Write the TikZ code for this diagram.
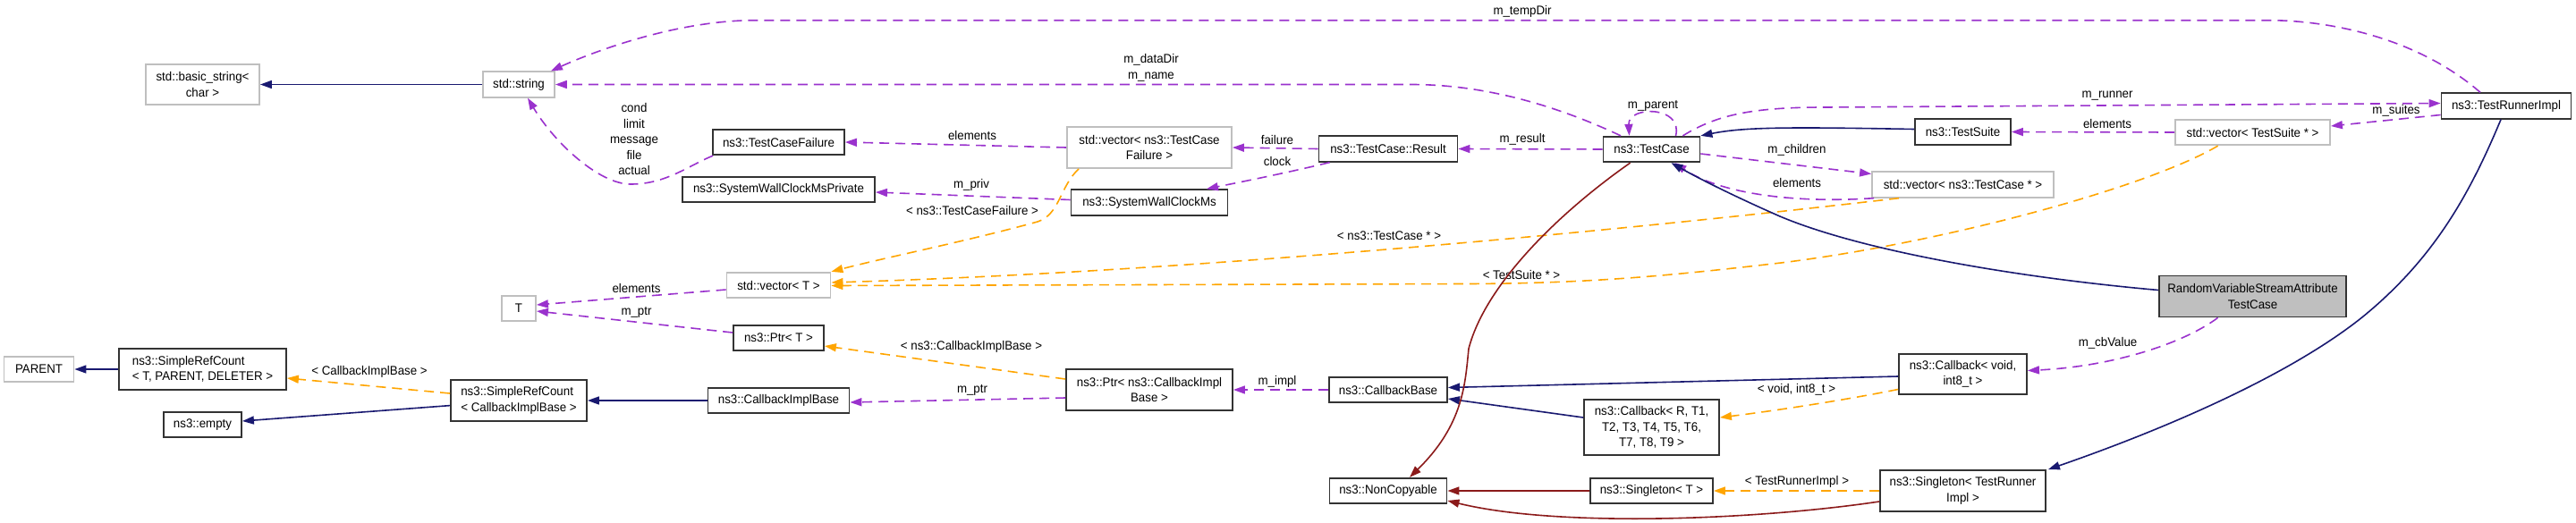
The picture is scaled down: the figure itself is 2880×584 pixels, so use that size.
\documentclass[tikz,border=0pt]{standalone}
\usepackage{fontspec}
\setmainfont{Liberation Sans}[FakeStretch=0.95]
\usetikzlibrary{arrows.meta,calc}
\definecolor{inhblue}{HTML}{191970}
\definecolor{usepurple}{HTML}{9A32CD}
\definecolor{tmplorange}{HTML}{FFA500}
\definecolor{privred}{HTML}{8B1A1A}
\definecolor{greyborder}{HTML}{BFBFBF}
\definecolor{hlfill}{HTML}{BFBFBF}
\tikzset{
  every node/.style={font=\fontsize{14pt}{17.5pt}\selectfont},
  cls/.style={draw=black!80, line width=1.8pt, rectangle, inner sep=0pt, align=center, fill=white},
  ext/.style={cls, draw=greyborder},
  hl/.style={cls, fill=hlfill},
  lbl/.style={inner sep=0pt, align=center},
  arrowend/.style={-{Triangle[length=13pt,width=9pt]}},
  inhedge/.style={draw=inhblue, line width=1.6pt, arrowend},
  privedge/.style={draw=privred, line width=1.6pt, arrowend},
  usedge/.style={draw=usepurple, line width=1.6pt, dash pattern=on 11pt off 7pt, arrowend},
  tmpledge/.style={draw=tmplorange, line width=1.6pt, dash pattern=on 11pt off 7pt, arrowend}
}
\begin{document}
\begin{tikzpicture}[x=1pt,y=-1pt]
\useasboundingbox (0,0) rectangle (2880,584);
% nodes
\node[ext, minimum width=127pt, minimum height=45pt] (bstr) at (226.5,94.5) {std::basic\_string<\\char >};
\node[ext, minimum width=80pt, minimum height=28.5pt] (str) at (580,94.5) {std::string};
\node[ext, minimum width=78pt, minimum height=28.5pt] (parent) at (43.5,413) {PARENT};
\node[cls, align=left, minimum width=187pt, minimum height=46pt] (srcT) at (226.5,413) {ns3::SimpleRefCount\\< T, PARENT, DELETER >};
\node[cls, minimum width=87pt, minimum height=28.5pt] (empty) at (226.5,475) {ns3::empty};
\node[cls, align=left, minimum width=152pt, minimum height=46pt] (srcC) at (580,448) {ns3::SimpleRefCount\\< CallbackImplBase >};
\node[ext, minimum width=38pt, minimum height=28.5pt] (T) at (580,345) {T};
\node[cls, minimum width=147pt, minimum height=28.5pt] (tcf) at (870.5,159) {ns3::TestCaseFailure};
\node[cls, minimum width=215pt, minimum height=28.5pt] (swcp) at (870.5,212) {ns3::SystemWallClockMsPrivate};
\node[ext, minimum width=184pt, minimum height=46pt] (vtcf) at (1285,165) {std::vector< ns3::TestCase\\Failure >};
\node[cls, minimum width=175pt, minimum height=28.5pt] (swc) at (1285,226.5) {ns3::SystemWallClockMs};
\node[ext, minimum width=116pt, minimum height=28.5pt] (vT) at (870.5,319) {std::vector< T >};
\node[cls, minimum width=101pt, minimum height=28.5pt] (ptrT) at (870.5,378) {ns3::Ptr< T >};
\node[cls, minimum width=158pt, minimum height=28.5pt] (cib) at (870.5,448) {ns3::CallbackImplBase};
\node[cls, minimum width=186pt, minimum height=46pt] (ptrC) at (1285,436) {ns3::Ptr< ns3::CallbackImpl\\Base >};
\node[cls, minimum width=155pt, minimum height=28.5pt] (res) at (1552,166.5) {ns3::TestCase::Result};
\node[cls, minimum width=108pt, minimum height=28.5pt] (tc) at (1846.5,167) {ns3::TestCase};
\node[ext, minimum width=203pt, minimum height=28.5pt] (vtc) at (2194.5,206.5) {std::vector< ns3::TestCase * >};
\node[cls, minimum width=107pt, minimum height=28.5pt] (ts) at (2194.5,147.5) {ns3::TestSuite};
\node[cls, minimum width=132pt, minimum height=28.5pt] (cbb) at (1552,436) {ns3::CallbackBase};
\node[cls, minimum width=151pt, minimum height=62.5pt] (cbR) at (1846.5,478) {ns3::Callback< R, T1,\\T2, T3, T4, T5, T6,\\T7, T8, T9 >};
\node[cls, minimum width=131pt, minimum height=28.5pt] (nc) at (1552,549) {ns3::NonCopyable};
\node[cls, minimum width=137pt, minimum height=28.5pt] (sgT) at (1846.5,549) {ns3::Singleton< T >};
\node[cls, minimum width=143pt, minimum height=45pt] (cbV) at (2194.5,418.5) {ns3::Callback< void,\\int8\_t >};
\node[cls, minimum width=185pt, minimum height=46pt] (sgR) at (2194.5,549) {ns3::Singleton< TestRunner\\Impl >};
\node[cls, minimum width=145pt, minimum height=28.5pt] (tri) at (2802,118.5) {ns3::TestRunnerImpl};
\node[ext, minimum width=173pt, minimum height=28.5pt] (vts) at (2518.5,148) {std::vector< TestSuite * >};
\node[hl, minimum width=209pt, minimum height=46pt] (rv) at (2518.5,331.5) {RandomVariableStreamAttribute\\TestCase};

% edges
\draw[inhedge] (str.west) -- (bstr.east);
\draw[usedge] ($(tri.north)+(-29,0)$) .. controls (2700,40) and (2600,22.7) .. (2536,22.7) -- (844,22.7) .. controls (760,22.7) and (670,55) .. ($(str.north east)+(-5,0)$);
\node[lbl] (lTemp) at (1702,12.7) {m\_tempDir};
\draw[usedge] ($(tc.north)+(-34.5,0)$) .. controls (1740,118) and (1660,94.5) .. (1578,94.5) -- (str.east);
\node[lbl] (lData) at (1287,76) {m\_dataDir\\m\_name};
\draw[usedge] ($(tcf.south west)+(1,0)$) .. controls (770,185) and (745,206) .. (705,206) .. controls (670,206) and (620,160) .. ($(str.south)+(10,0)$);
\node[lbl] (lCond) at (709,155.5) {cond\\limit\\message\\file\\actual};
\draw[usedge] (vtcf.west) -- (tcf.east);
\node[lbl] (lEl1) at (1087,151.6) {elements};
\draw[usedge] (res.west) -- (vtcf.east);
\node[lbl] (lFail) at (1428,156) {failure};
\draw[usedge] ($(res.south west)+(13,0)$) .. controls (1440,193) and (1390,203) .. ($(swc.north east)+(-24.5,0)$);
\node[lbl] (lClock) at (1428,180) {clock};
\draw[usedge] ($(swc.west)+(0,-3)$) -- ($(swcp.east)+(0,3)$);
\node[lbl] (lPriv) at (1086,207) {m\_priv};
\draw[tmpledge] ($(vtcf.south west)+(14,0)$) .. controls (1185,208) and (1185,240) .. (1160,248) .. controls (1080,270) and (990,288) .. (vT.north east);
\node[lbl] (lTCF) at (1087,235) {< ns3::TestCaseFailure >};
\draw[tmpledge] ($(vtc.south west)+(31,0)$) .. controls (1750,265) and (1300,305) .. ($(vT.east)+(0,-3)$);
\node[lbl] (lTCs) at (1553,264) {< ns3::TestCase * >};
\draw[tmpledge] ($(vts.south west)+(48.5,0)$) .. controls (2400,210) and (2170,272) .. (1991,294) .. controls (1870,308) and (1780,317) .. (1640,317.5) -- ($(vT.east)+(0,0.5)$);
\node[lbl] (lTSs) at (1701,307.6) {< TestSuite * >};
\draw[usedge] ($(tc.north)+(27,0)$) .. controls (1882,118) and (1820,118) .. ($(tc.north)+(-25,0)$);
\node[lbl] (lPar) at (1848,118) {m\_parent};
\draw[usedge] (tc.west) -- (res.east);
\node[lbl] (lRes) at (1702,156) {m\_result};
\draw[usedge] ($(tc.east)+(0,5)$) -- ($(vtc.west)+(0,-12)$);
\node[lbl] (lChild) at (2009,168) {m\_children};
\draw[usedge] ($(vtc.south west)+(3,0)$) .. controls (2000,228) and (1920,215) .. ($(tc.south east)+(-29,0)$);
\node[lbl] (lEl2) at (2009,204.5) {elements};
\draw[inhedge] ($(ts.west)+(0,-3)$) .. controls (2000,142) and (1950,142) .. (tc.north east);
\draw[usedge] ($(tc.north east)+(-20,0)$) .. controls (1920,128) and (1960,120) .. (2040,120) -- ($(tri.west)+(0,-3)$);
\node[lbl] (lRun) at (2356,107) {m\_runner};
\draw[usedge] ($(tri.west)+(0,10)$) -- ($(vts.east)+(0,-7)$);
\node[lbl] (lSuites) at (2679,123.5) {m\_suites};
\draw[usedge] (vts.west) -- (ts.east);
\node[lbl] (lEl3) at (2356,138.5) {elements};
\draw[inhedge] ($(rv.west)+(0,-7)$) .. controls (2250,310) and (2080,280) .. (1990,242) .. controls (1940,220) and (1900,200) .. ($(tc.south east)+(-33,0)$);
\draw[usedge] ($(rv.south)+(-39,0)$) .. controls (2440,385) and (2360,410) .. ($(cbV.east)+(0,-4)$);
\node[lbl] (lCb) at (2356.5,384) {m\_cbValue};
\draw[inhedge] ($(tri.south)+(-6,0)$) .. controls (2760,220) and (2720,290) .. (2642,354) .. controls (2560,420) and (2420,480) .. ($(sgR.north east)+(2,0)$);
\draw[inhedge] ($(cbV.west)+(0,2.5)$) -- ($(cbb.east)+(0,-2.5)$);
\draw[tmpledge] ($(cbV.west)+(0,17)$) .. controls (2060,448) and (1980,460) .. ($(cbR.east)+(0,-11)$);
\node[lbl] (lVoid) at (2008.5,436) {< void, int8\_t >};
\draw[inhedge] ($(cbR.west)+(0,-11)$) -- ($(cbb.east)+(0,10)$);
\draw[privedge] ($(tc.south west)+(31,0)$) .. controls (1740,240) and (1660,320) .. (1642,390) .. controls (1638,430) and (1636,475) .. ($(nc.north)+(24,0)$);
\draw[privedge] (sgT.west) -- (nc.east);
\draw[tmpledge] (sgR.west) -- (sgT.east);
\node[lbl] (lTRI) at (2009,539) {< TestRunnerImpl >};
\draw[privedge] ($(sgR.west)+(0,12)$) .. controls (1960,582) and (1740,590) .. ($(nc.east)+(0,11)$);
\draw[usedge] (cbb.west) -- (ptrC.east);
\node[lbl] (lImpl) at (1428,426.7) {m\_impl};
\draw[tmpledge] ($(ptrC.west)+(0,-12)$) -- ($(ptrT.east)+(0,9)$);
\node[lbl] (lCIB) at (1086,388) {< ns3::CallbackImplBase >};
\draw[usedge] ($(ptrC.west)+(0,9)$) -- ($(cib.east)+(0,2)$);
\node[lbl] (lPtr1) at (1087,436.5) {m\_ptr};
\draw[inhedge] (cib.west) -- (srcC.east);
\draw[tmpledge] ($(srcC.west)+(0,-8)$) -- ($(srcT.east)+(0,10)$);
\node[lbl] (lCIB2) at (413,416) {< CallbackImplBase >};
\draw[inhedge] ($(srcC.west)+(0,5.6)$) -- ($(empty.east)+(0,-4)$);
\draw[inhedge] (srcT.west) -- (parent.east);
\draw[usedge] ($(vT.west)+(0,5)$) -- ($(T.east)+(0,-4)$);
\node[lbl] (lEl4) at (711.5,322.5) {elements};
\draw[usedge] ($(ptrT.west)+(0,-6)$) -- ($(T.east)+(0,3)$);
\node[lbl] (lPtr2) at (711.5,349) {m\_ptr};
\end{tikzpicture}
\end{document}
